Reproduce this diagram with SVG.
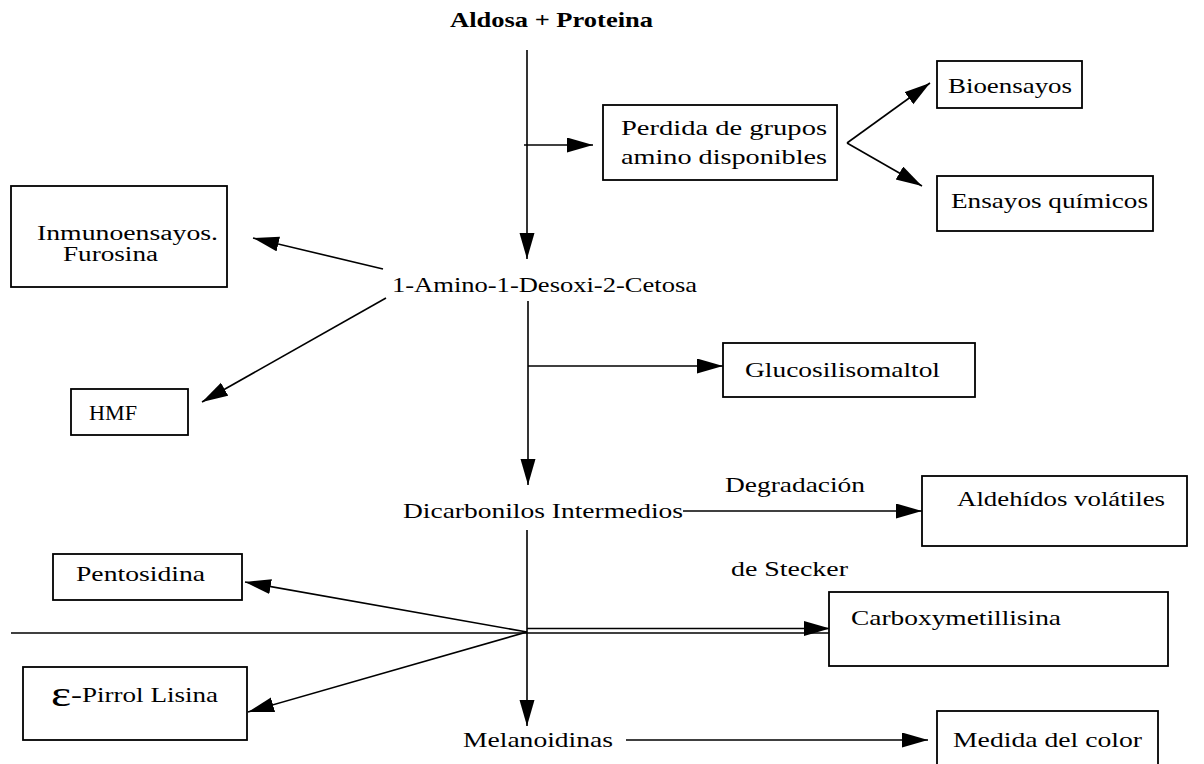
<svg xmlns="http://www.w3.org/2000/svg" width="1204" height="764" viewBox="0 0 1204 764">
  <style>
    .bg { fill: #ffffff; }
    .box { fill: #ffffff; stroke: #000000; stroke-width: 1.8; }
    .ln { fill: none; stroke: #000000; stroke-width: 1.6; }
    .t { font-family: "Liberation Serif", "Times New Roman", Times, serif; font-size: 22px; fill: #000000; }
    .tb { font-family: "Liberation Serif", "Times New Roman", Times, serif; font-size: 22px; font-weight: bold; fill: #000000; }
    .sm { font-size: 20px; }
    .eps { font-size: 36px; }
  </style>
  <defs>
    <marker id="arrow" markerUnits="userSpaceOnUse" markerWidth="27" markerHeight="16" refX="26" refY="7.5" orient="auto">
      <path d="M0,0 L26,7.5 L0,15 Z" fill="#000000"/>
    </marker>
  </defs>

  <rect class="bg" x="0" y="0" width="1204" height="764"/>

  <!-- connectors -->
  <g id="connectors">
    <!-- main trunk -->
    <line class="ln" x1="527" y1="50" x2="527" y2="259" marker-end="url(#arrow)"/>
    <line class="ln" x1="524" y1="145" x2="593" y2="145" marker-end="url(#arrow)"/>
    <line class="ln" x1="847" y1="143" x2="930" y2="83" marker-end="url(#arrow)"/>
    <line class="ln" x1="847" y1="143" x2="922" y2="186" marker-end="url(#arrow)"/>
    <!-- from the ketose -->
    <line class="ln" x1="383" y1="269" x2="253" y2="238" marker-end="url(#arrow)"/>
    <line class="ln" x1="386" y1="298" x2="202" y2="402" marker-end="url(#arrow)"/>
    <line class="ln" x1="528" y1="301" x2="528" y2="485" marker-end="url(#arrow)"/>
    <line class="ln" x1="528" y1="366" x2="723" y2="366" marker-end="url(#arrow)"/>
    <!-- Strecker degradation -->
    <line class="ln" x1="683" y1="511" x2="922" y2="511" marker-end="url(#arrow)"/>
    <!-- from the dicarbonyls -->
    <line class="ln" x1="527" y1="530" x2="527" y2="726" marker-end="url(#arrow)"/>
    <line class="ln" x1="11" y1="633" x2="830" y2="633"/>
    <line class="ln" x1="527" y1="628.5" x2="830" y2="628.5" marker-end="url(#arrow)"/>
    <line class="ln" x1="527" y1="632" x2="245" y2="582" marker-end="url(#arrow)"/>
    <line class="ln" x1="527" y1="632" x2="248" y2="712" marker-end="url(#arrow)"/>
    <!-- colour measurement -->
    <line class="ln" x1="626" y1="740" x2="928" y2="740" marker-end="url(#arrow)"/>
  </g>

  <!-- nodes -->
  <g id="aldosa-proteina">
    <text class="tb" x="450" y="27" textLength="203" lengthAdjust="spacingAndGlyphs">Aldosa + Proteina</text>
  </g>

  <g id="perdida-grupos-amino">
    <rect class="box" x="603" y="105" width="234" height="75"/>
    <text class="t" x="621" y="135" textLength="206" lengthAdjust="spacingAndGlyphs">Perdida de grupos</text>
    <text class="t" x="621" y="164" textLength="206" lengthAdjust="spacingAndGlyphs">amino disponibles</text>
  </g>

  <g id="bioensayos">
    <rect class="box" x="937" y="61" width="145" height="47"/>
    <text class="t" x="948" y="93" textLength="124" lengthAdjust="spacingAndGlyphs">Bioensayos</text>
  </g>

  <g id="ensayos-quimicos">
    <rect class="box" x="937" y="176" width="216" height="55"/>
    <text class="t" x="951" y="208" textLength="197" lengthAdjust="spacingAndGlyphs">Ensayos químicos</text>
  </g>

  <g id="inmunoensayos-furosina">
    <rect class="box" x="11" y="186" width="216" height="101"/>
    <text class="t sm" x="37" y="240" textLength="181" lengthAdjust="spacingAndGlyphs">Inmunoensayos.</text>
    <text class="t sm" x="63" y="261" textLength="95" lengthAdjust="spacingAndGlyphs">Furosina</text>
  </g>

  <g id="amino-desoxi-cetosa">
    <text class="t" x="392" y="292" textLength="305" lengthAdjust="spacingAndGlyphs">1-Amino-1-Desoxi-2-Cetosa</text>
  </g>

  <g id="hmf">
    <rect class="box" x="71" y="389" width="117" height="46"/>
    <text class="t" x="89" y="420" textLength="48" lengthAdjust="spacingAndGlyphs">HMF</text>
  </g>

  <g id="glucosilisomaltol">
    <rect class="box" x="723" y="343" width="252" height="54"/>
    <text class="t" x="745" y="377" textLength="195" lengthAdjust="spacingAndGlyphs">Glucosilisomaltol</text>
  </g>

  <g id="dicarbonilos">
    <text class="t" x="403" y="518" textLength="280" lengthAdjust="spacingAndGlyphs">Dicarbonilos Intermedios</text>
  </g>

  <g id="degradacion-stecker">
    <text class="t" x="725" y="492" textLength="140" lengthAdjust="spacingAndGlyphs">Degradación</text>
    <text class="t" x="731" y="576" textLength="117" lengthAdjust="spacingAndGlyphs">de Stecker</text>
  </g>

  <g id="aldehidos-volatiles">
    <rect class="box" x="922" y="476" width="265" height="70"/>
    <text class="t" x="957" y="506" textLength="208" lengthAdjust="spacingAndGlyphs">Aldehídos volátiles</text>
  </g>

  <g id="pentosidina">
    <rect class="box" x="53" y="554" width="189" height="46"/>
    <text class="t" x="76" y="581" textLength="129" lengthAdjust="spacingAndGlyphs">Pentosidina</text>
  </g>

  <g id="carboxymetillisina">
    <rect class="box" x="829" y="592" width="339" height="74"/>
    <text class="t" x="851" y="625" textLength="210" lengthAdjust="spacingAndGlyphs">Carboxymetillisina</text>
  </g>

  <g id="pirrol-lisina">
    <rect class="box" x="23" y="667" width="224" height="73"/>
    <text class="t eps" x="51" y="706" textLength="20" lengthAdjust="spacingAndGlyphs">ε</text>
    <text class="tb" x="71" y="702" textLength="11" lengthAdjust="spacingAndGlyphs">-</text>
    <text class="t" x="82" y="702" textLength="136" lengthAdjust="spacingAndGlyphs">Pirrol Lisina</text>
  </g>

  <g id="melanoidinas">
    <text class="t" x="463" y="747" textLength="150" lengthAdjust="spacingAndGlyphs">Melanoidinas</text>
  </g>

  <g id="medida-color">
    <rect class="box" x="937" y="711" width="221" height="60"/>
    <text class="t" x="953" y="747" textLength="189" lengthAdjust="spacingAndGlyphs">Medida del color</text>
  </g>
</svg>
